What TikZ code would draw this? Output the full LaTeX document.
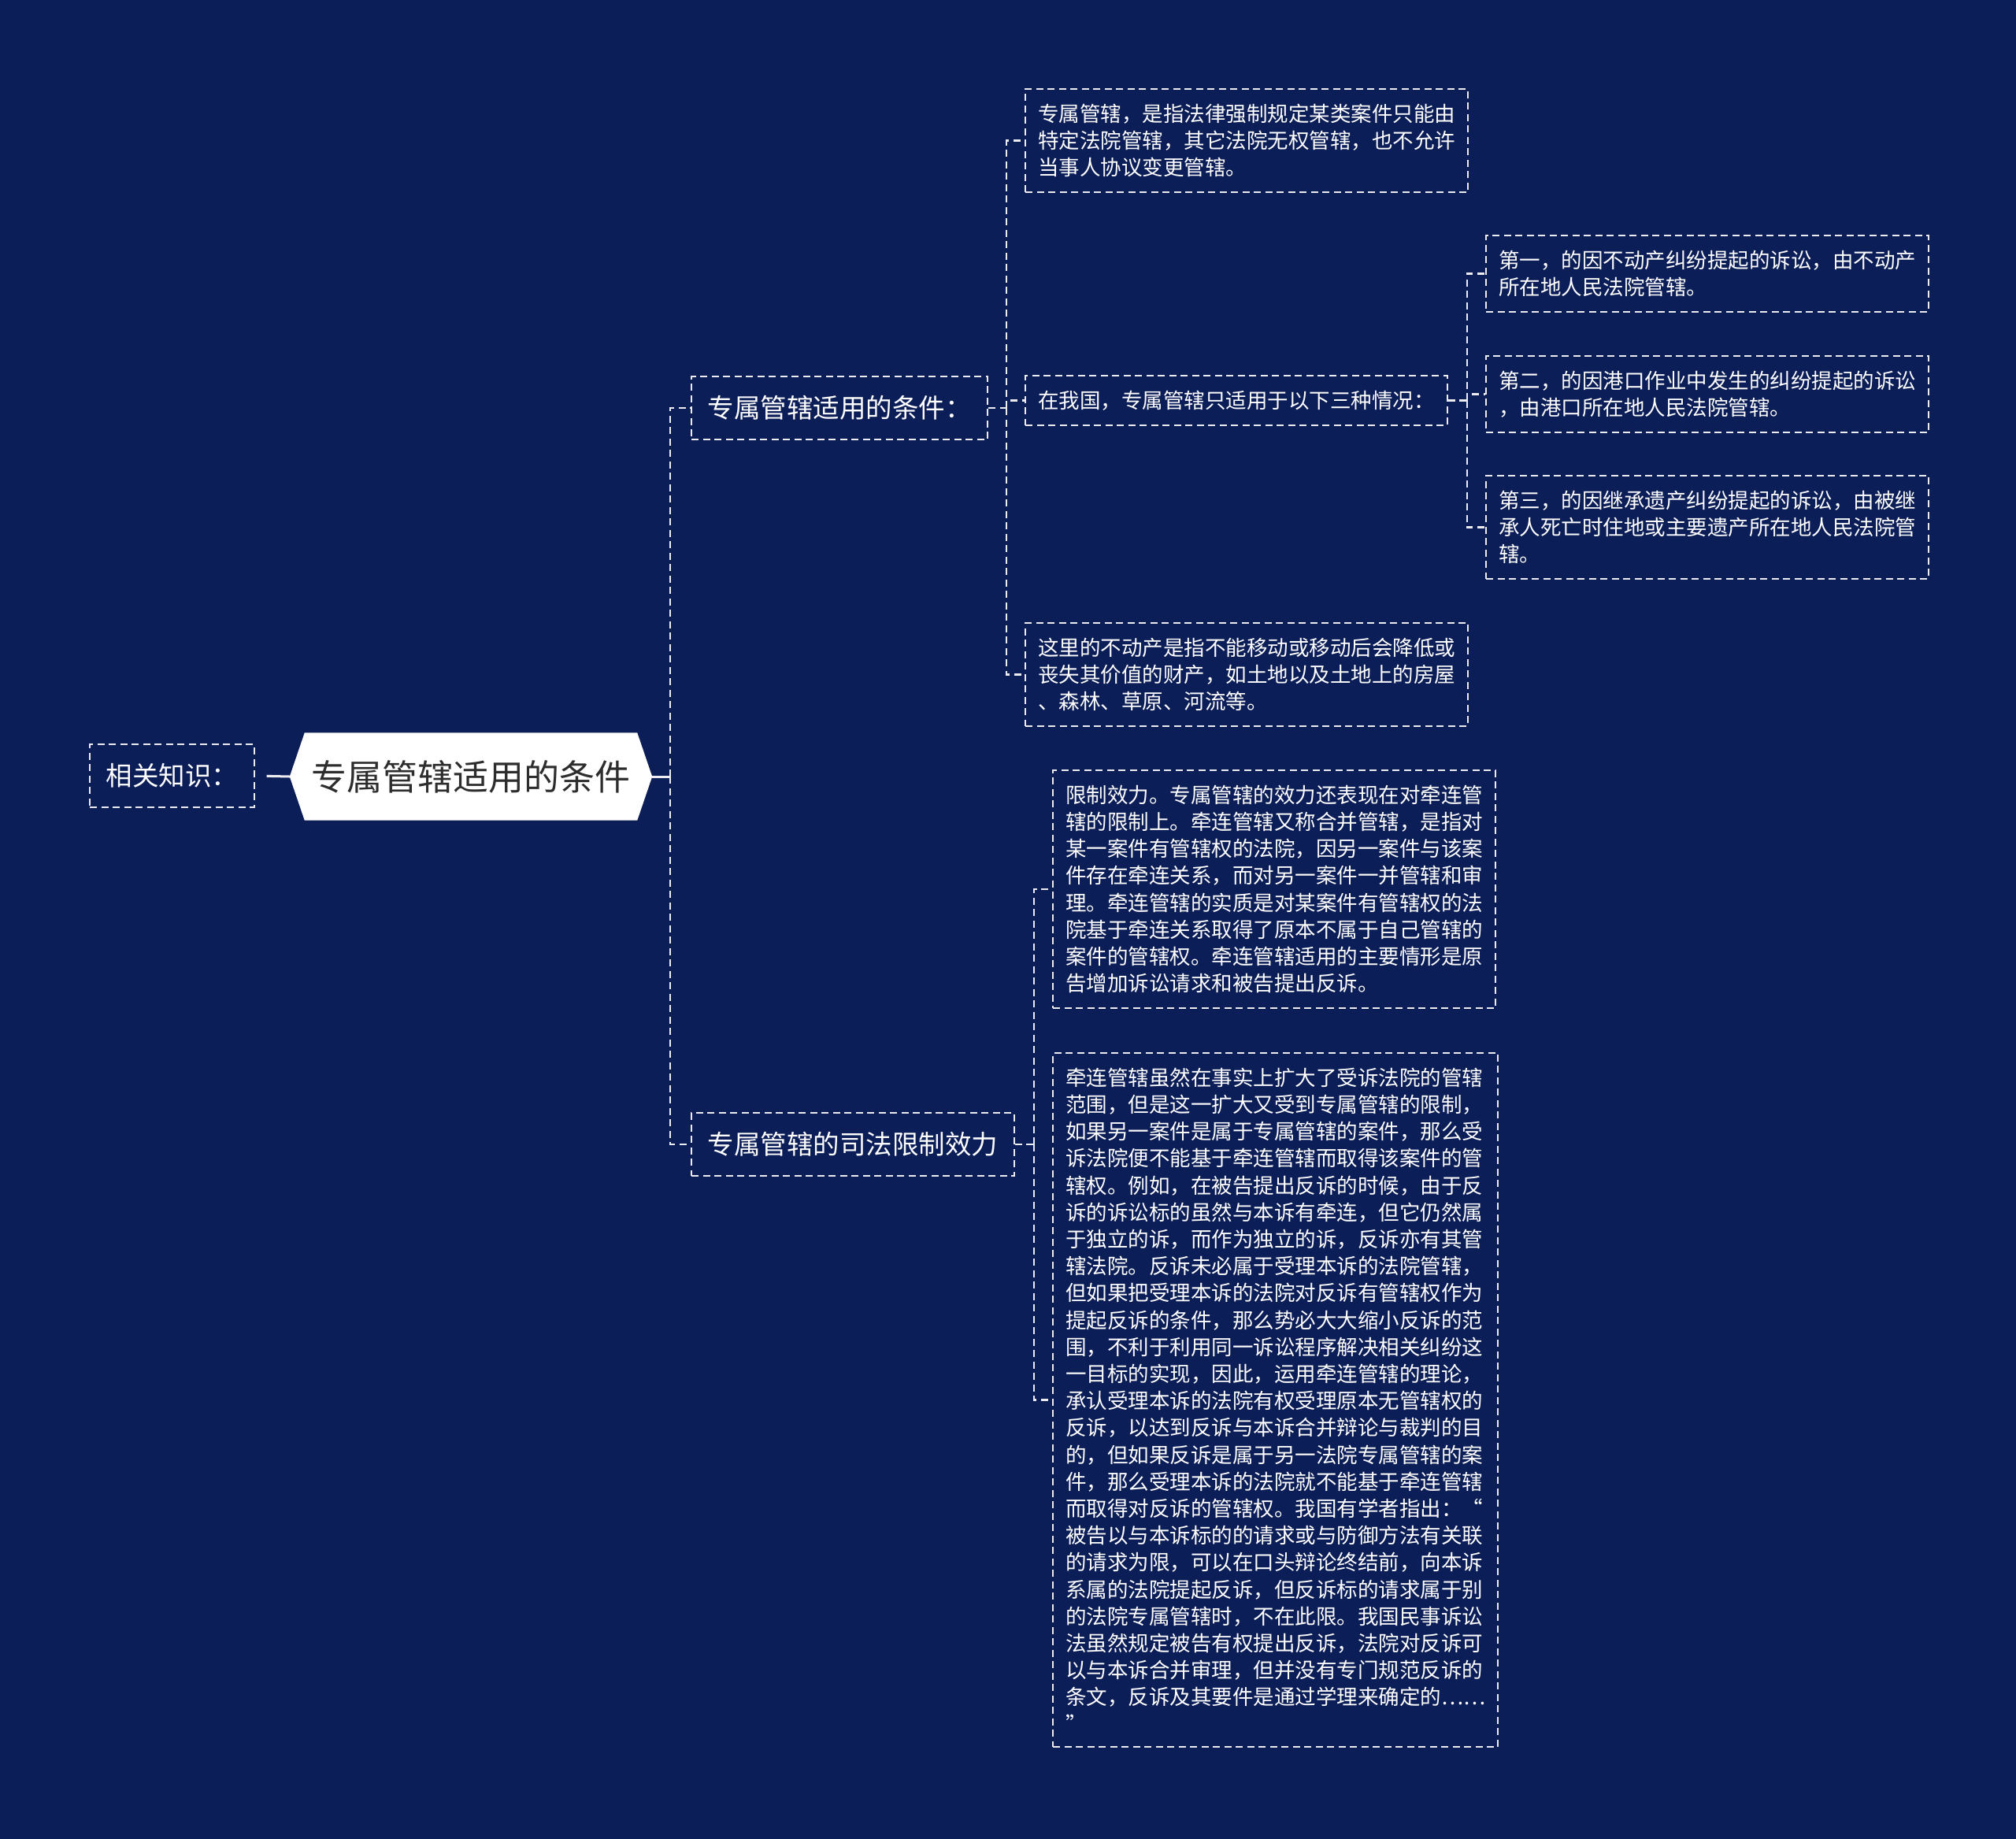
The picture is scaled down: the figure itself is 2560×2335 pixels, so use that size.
\documentclass[tikz,border=0pt]{standalone}
\usepackage{fontspec}
\setmainfont{Noto Sans CJK SC}
\usetikzlibrary{positioning,calc,backgrounds}
\definecolor{navy}{RGB}{12,30,88}
\definecolor{ink}{RGB}{45,45,45}
\definecolor{wire}{RGB}{236,236,240}
\newcommand\rootfont{\fontsize{45}{54}\selectfont}
\newcommand\catfont{\fontsize{33.5}{40}\selectfont}
\newcommand\leaffont{\fontsize{26.5}{34.2}\selectfont}
\tikzset{
  box/.style={draw=wire,line width=2.2pt,dash pattern=on 9pt off 5.5pt,text=white,align=left},
  cat/.style={box,font=\catfont,inner xsep=20.5pt,minimum height=80pt},
  leaf/.style={box,font=\leaffont,inner xsep=16pt,inner ysep=19pt},
  rootbox/.style={font=\rootfont,text=ink,minimum width=460pt,minimum height=111pt,inner sep=0pt},
  conn/.style={draw=wire,line width=2.2pt,dash pattern=on 9pt off 5.5pt},
  link/.style={draw=wire,line width=3pt},
}

\begin{document}
\begin{tikzpicture}[x=1pt,y=-1pt]
  \useasboundingbox (0,0) rectangle (2560,2335);

  % centre and its left label
  \node[rootbox] (root) at (598,986) {专属管辖适用的条件};
  \node[cat,anchor=west] (know) at (113,985) {相关知识：};
  \begin{scope}[on background layer]
    \fill[navy] (0,0) rectangle (2560,2335);
    \fill[white] (root.west) -- ([xshift=19pt]root.north west) -- ([xshift=-19pt]root.north east)
      -- (root.east) -- ([xshift=-19pt]root.south east) -- ([xshift=19pt]root.south west) -- cycle;
  \end{scope}
  \draw[link,shorten <=15pt] (know.east) -- (root.west);

  % first level
  \node[cat,anchor=west] (cond) at (877,518) {专属管辖适用的条件：};
  \node[cat,anchor=west] (lim) at (877,1453) {专属管辖的司法限制效力};
  \coordinate (rfork) at ($(root.east)+(23,0)$);
  \draw[link] (root.east) -- (rfork);
  \draw[conn] (rfork) |- (cond.west);
  \draw[conn] (rfork) |- (lim.west);

  % conditions
  \node[leaf,anchor=west] (cond1) at (1301,178.5) {专属管辖，是指法律强制规定某类案件只能由\\特定法院管辖，其它法院无权管辖，也不允许\\当事人协议变更管辖。};
  \node[leaf,anchor=west] (cond2) at (1301,508.5) {在我国，专属管辖只适用于以下三种情况：};
  \node[leaf,anchor=west] (cond3) at (1301,856.5) {这里的不动产是指不能移动或移动后会降低或\\丧失其价值的财产，如土地以及土地上的房屋\\、森林、草原、河流等。};
  \coordinate (cfork) at ($(cond.east)+(23,0)$);
  \draw[conn] (cond.east) -- (cfork);
  \foreach \c in {cond1,cond2,cond3} \draw[conn] (cfork) |- (\c.west);

  % three cases
  \node[leaf,anchor=west] (case1) at (1886,347.5) {第一，的因不动产纠纷提起的诉讼，由不动产\\所在地人民法院管辖。};
  \node[leaf,anchor=west] (case2) at (1886,500.5) {第二，的因港口作业中发生的纠纷提起的诉讼\\，由港口所在地人民法院管辖。};
  \node[leaf,anchor=west] (case3) at (1886,669.5) {第三，的因继承遗产纠纷提起的诉讼，由被继\\承人死亡时住地或主要遗产所在地人民法院管\\辖。};
  \coordinate (kfork) at ($(cond2.east)+(24,0)$);
  \draw[conn] (cond2.east) -- (kfork);
  \foreach \c in {case1,case2,case3} \draw[conn] (kfork) |- (\c.west);

  % limiting effect
  \node[leaf,anchor=west] (lim1) at (1336,1129) {限制效力。专属管辖的效力还表现在对牵连管\\辖的限制上。牵连管辖又称合并管辖，是指对\\某一案件有管辖权的法院，因另一案件与该案\\件存在牵连关系，而对另一案件一并管辖和审\\理。牵连管辖的实质是对某案件有管辖权的法\\院基于牵连关系取得了原本不属于自己管辖的\\案件的管辖权。牵连管辖适用的主要情形是原\\告增加诉讼请求和被告提出反诉。};
  \node[leaf,anchor=west] (lim2) at (1336,1777.5) {牵连管辖虽然在事实上扩大了受诉法院的管辖\\范围，但是这一扩大又受到专属管辖的限制，\\如果另一案件是属于专属管辖的案件，那么受\\诉法院便不能基于牵连管辖而取得该案件的管\\辖权。例如，在被告提出反诉的时候，由于反\\诉的诉讼标的虽然与本诉有牵连，但它仍然属\\于独立的诉，而作为独立的诉，反诉亦有其管\\辖法院。反诉未必属于受理本诉的法院管辖，\\但如果把受理本诉的法院对反诉有管辖权作为\\提起反诉的条件，那么势必大大缩小反诉的范\\围，不利于利用同一诉讼程序解决相关纠纷这\\一目标的实现，因此，运用牵连管辖的理论，\\承认受理本诉的法院有权受理原本无管辖权的\\反诉，以达到反诉与本诉合并辩论与裁判的目\\的，但如果反诉是属于另一法院专属管辖的案\\件，那么受理本诉的法院就不能基于牵连管辖\\而取得对反诉的管辖权。我国有学者指出：“\\被告以与本诉标的的请求或与防御方法有关联\\的请求为限，可以在口头辩论终结前，向本诉\\系属的法院提起反诉，但反诉标的请求属于别\\的法院专属管辖时，不在此限。我国民事诉讼\\法虽然规定被告有权提出反诉，法院对反诉可\\以与本诉合并审理，但并没有专门规范反诉的\\条文，反诉及其要件是通过学理来确定的……\\”};
  \coordinate (lfork) at ($(lim.east)+(24,0)$);
  \draw[conn] (lim.east) -- (lfork);
  \foreach \c in {lim1,lim2} \draw[conn] (lfork) |- (\c.west);
\end{tikzpicture}
\end{document}
